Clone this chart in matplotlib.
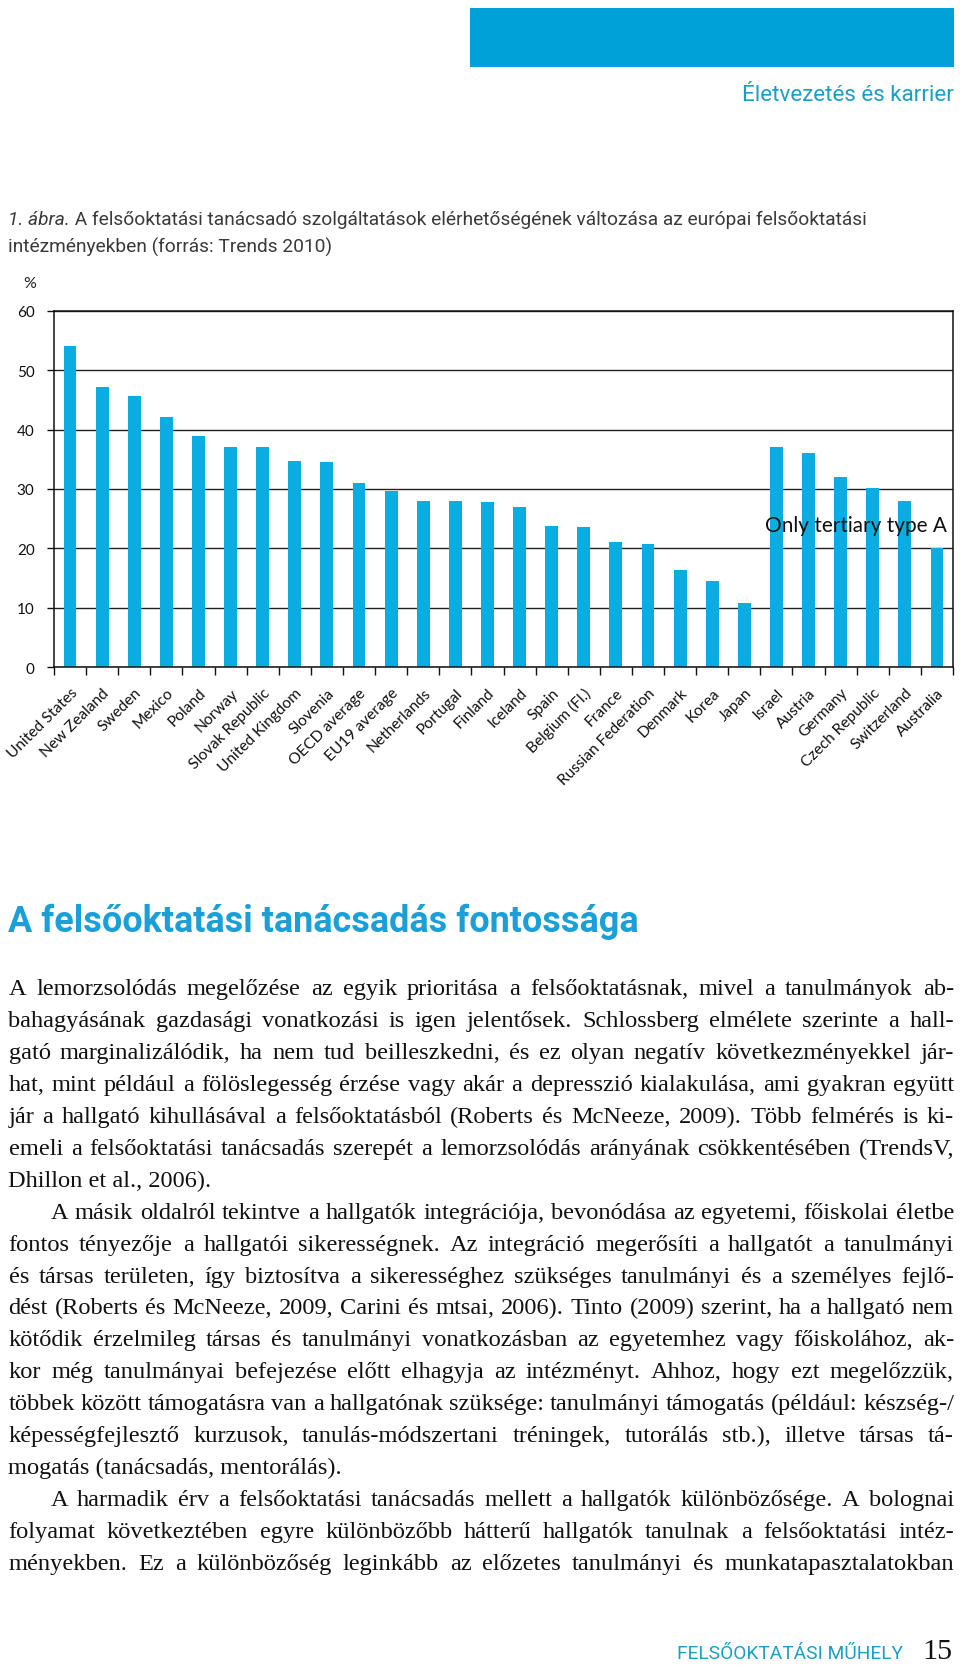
import matplotlib
matplotlib.use("Agg")
import matplotlib.pyplot as plt
from matplotlib.patches import Rectangle

# ---------------- data ----------------
categories = ["United States", "New Zealand", "Sweden", "Mexico", "Poland", "Norway",
              "Slovak Republic", "United Kingdom", "Slovenia", "OECD average",
              "EU19 average", "Netherlands", "Portugal", "Finland", "Iceland", "Spain",
              "Belgium (Fl.)", "France", "Russian Federation", "Denmark", "Korea",
              "Japan", "Israel", "Austria", "Germany", "Czech Republic",
              "Switzerland", "Australia"]
values = [54.0, 47.1, 45.7, 42.1, 39.0, 37.1, 37.0, 34.7, 34.6, 31.0, 29.6, 28.0, 27.9,
          27.8, 26.9, 23.8, 23.6, 21.0, 20.7, 16.3, 14.6, 10.8, 37.0, 36.0, 32.0, 30.1,
          28.0, 20.0]
yticks = [0, 10, 20, 30, 40, 50, 60]
annotation = "Only tertiary type A"

header_text = "Életvezetés és karrier"
caption_italic = "1. ábra."
caption_line1 = " A felsőoktatási tanácsadó szolgáltatások elérhetőségének változása az európai felsőoktatási"
caption_line2 = "intézményekben (forrás: Trends 2010)"
heading = "A felsőoktatási tanácsadás fontossága"
footer_text = "FELSŐOKTATÁSI MŰHELY"
page_number = "15"

# (text, indent?, justified?)
body_lines = [
    ("A lemorzsolódás megelőzése az egyik prioritása a felsőoktatásnak, mivel a tanulmányok ab-", False, True),
    ("bahagyásának gazdasági vonatkozási is igen jelentősek. Schlossberg elmélete szerinte a hall-", False, True),
    ("gató marginalizálódik, ha nem tud beilleszkedni, és ez olyan negatív következményekkel jár-", False, True),
    ("hat, mint például a fölöslegesség érzése vagy akár a depresszió kialakulása, ami gyakran együtt", False, True),
    ("jár a hallgató kihullásával a felsőoktatásból (Roberts és McNeeze, 2009). Több felmérés is ki-", False, True),
    ("emeli a felsőoktatási tanácsadás szerepét a lemorzsolódás arányának csökkentésében (TrendsV,", False, True),
    ("Dhillon et al., 2006).", False, False),
    ("A másik oldalról tekintve a hallgatók integrációja, bevonódása az egyetemi, főiskolai életbe", True, True),
    ("fontos tényezője a hallgatói sikerességnek. Az integráció megerősíti a hallgatót a tanulmányi", False, True),
    ("és társas területen, így biztosítva a sikerességhez szükséges tanulmányi és a személyes fejlő-", False, True),
    ("dést (Roberts és McNeeze, 2009, Carini és mtsai, 2006). Tinto (2009) szerint, ha a hallgató nem", False, True),
    ("kötődik érzelmileg társas és tanulmányi vonatkozásban az egyetemhez vagy főiskolához, ak-", False, True),
    ("kor még tanulmányai befejezése előtt elhagyja az intézményt. Ahhoz, hogy ezt megelőzzük,", False, True),
    ("többek között támogatásra van a hallgatónak szüksége: tanulmányi támogatás (például: készség-/", False, True),
    ("képességfejlesztő kurzusok, tanulás-módszertani tréningek, tutorálás stb.), illetve társas tá-", False, True),
    ("mogatás (tanácsadás, mentorálás).", False, False),
    ("A harmadik érv a felsőoktatási tanácsadás mellett a hallgatók különbözősége. A bolognai", True, True),
    ("folyamat következtében egyre különbözőbb hátterű hallgatók tanulnak a felsőoktatási intéz-", False, True),
    ("ményekben. Ez a különbözőség leginkább az előzetes tanulmányi és munkatapasztalatokban", False, True),
]

# ---------------- figure ----------------
W, H = 960, 1674
fig = plt.figure(figsize=(W / 100, H / 100), dpi=100)
fig.patch.set_facecolor("white")
renderer = fig.canvas.get_renderer()

BAR_COLOR = "#0aade2"
TEAL = "#1a9fc4"
HEAD_BLUE = "#1a9fd8"


def text_px(x, y, s, **kw):
    kw.setdefault("va", "baseline")
    return fig.text(x / W, 1 - y / H, s, **kw)


def width_of(t):
    return t.get_window_extent(renderer=renderer).width


def fit_text(x, y, s, target_w, size0, **kw):
    t = text_px(x, y, s, fontsize=size0, **kw)
    for _ in range(3):
        t.set_fontsize(t.get_fontsize() * target_w / width_of(t))
    return t


# header bar and running title
fig.add_artist(Rectangle((470 / W, 1 - 68 / H), (954 - 470) / W, (68 - 8.5) / H,
                         transform=fig.transFigure, color="#00a0d8", lw=0))
fit_text(954, 101, header_text, 212, 15, ha="right", color=TEAL, family="Roboto")

# caption
CAP_COLOR = "#3a3a3a"
ti = text_px(8.5, 225, caption_italic, fontsize=12, family="Roboto", style="italic",
             color=CAP_COLOR)
tr = text_px(8.5, 225, caption_line1, fontsize=12, family="Roboto", color=CAP_COLOR)
for _ in range(3):
    total = width_of(ti) + width_of(tr)
    s = ti.get_fontsize() * 861 / total
    ti.set_fontsize(s)
    tr.set_fontsize(s)
tr.set_x((8.5 + width_of(ti)) / W)
text_px(8.5, 253, caption_line2, fontsize=ti.get_fontsize(), family="Roboto",
        color=CAP_COLOR)
text_px(23, 288, "%", fontsize=11.5, family="Lato", color="#222222")

# ---------------- chart ----------------
ax = fig.add_axes([54 / W, 1 - 668.3 / H, 899 / W, 356.6 / H])
x = list(range(len(categories)))
ax.bar(x, values, width=0.4, color=BAR_COLOR, zorder=2)
ax.set_xlim(-0.5, len(categories) - 0.5)
ax.set_ylim(0, 60)
ax.set_yticks(yticks)
ax.yaxis.grid(True, color="#222222", lw=1.0, zorder=0)
ax.set_axisbelow(True)
for sp in ax.spines.values():
    sp.set_color("#111111")
    sp.set_linewidth(1.1)
ax.tick_params(axis="y", length=5, width=1, pad=9, labelsize=11, colors="#111111")
for lab in ax.get_yticklabels():
    lab.set_family("Lato")
ax.set_xticks(x)
ax.set_xticklabels(categories, rotation=45, ha="right", rotation_mode="anchor",
                   family="Lato", fontsize=11.2, color="#111111")
ax.set_xticks([i - 0.5 for i in range(len(categories) + 1)], minor=True)
ax.tick_params(axis="x", which="major", length=0, pad=13)
ax.tick_params(axis="x", which="minor", length=6, width=1, color="#111111")
ann = ax.text(27.32, 23.0, annotation, ha="right", va="baseline", fontsize=13,
              family="Lato", color="#111111", zorder=5)
for _ in range(3):
    ann.set_fontsize(ann.get_fontsize() * 182 / width_of(ann))

# ---------------- heading ----------------
fit_text(8.5, 932, heading, 630, 22, family="Roboto", weight="bold", color=HEAD_BLUE)

# ---------------- body text (justified) ----------------
LEFT, RIGHT = 8.5, 954
INDENT = 42
BASE0, STEP = 995, 31.95
body_kw = dict(family="Liberation Serif", color="#111111")


def natural_min_gap(size):
    worst = 1e9
    for s, ind, just in body_lines:
        if not just:
            continue
        words = s.split(" ")
        ws = []
        for w in words:
            t = text_px(0, 0, w, fontsize=size, **body_kw)
            ws.append(width_of(t))
            t.remove()
        x0 = LEFT + (INDENT if ind else 0)
        gap = (RIGHT - x0 - sum(ws)) / (len(words) - 1)
        worst = min(worst, gap)
    return worst


body_size = 19.0
while natural_min_gap(body_size) < 0.2 * body_size * 100 / 72 and body_size > 12:
    body_size -= 0.2

for i, (s, ind, just) in enumerate(body_lines):
    y = BASE0 + i * STEP
    x0 = LEFT + (INDENT if ind else 0)
    if not just:
        text_px(x0, y, s, fontsize=body_size, **body_kw)
        continue
    words = s.split(" ")
    arts = [text_px(0, y, w, fontsize=body_size, **body_kw) for w in words]
    ws = [width_of(a) for a in arts]
    gap = (RIGHT - x0 - sum(ws)) / (len(words) - 1)
    cx = x0
    for a, w in zip(arts, ws):
        a.set_x(cx / W)
        cx += w + gap

# ---------------- footer ----------------
fit_text(677, 1659, footer_text, 226, 12, family="Roboto", color=TEAL)
fit_text(952, 1659, page_number, 30, 20, ha="right", family="Liberation Serif",
         color="#111111")

fig.savefig("out.png", dpi=100, facecolor="white")
